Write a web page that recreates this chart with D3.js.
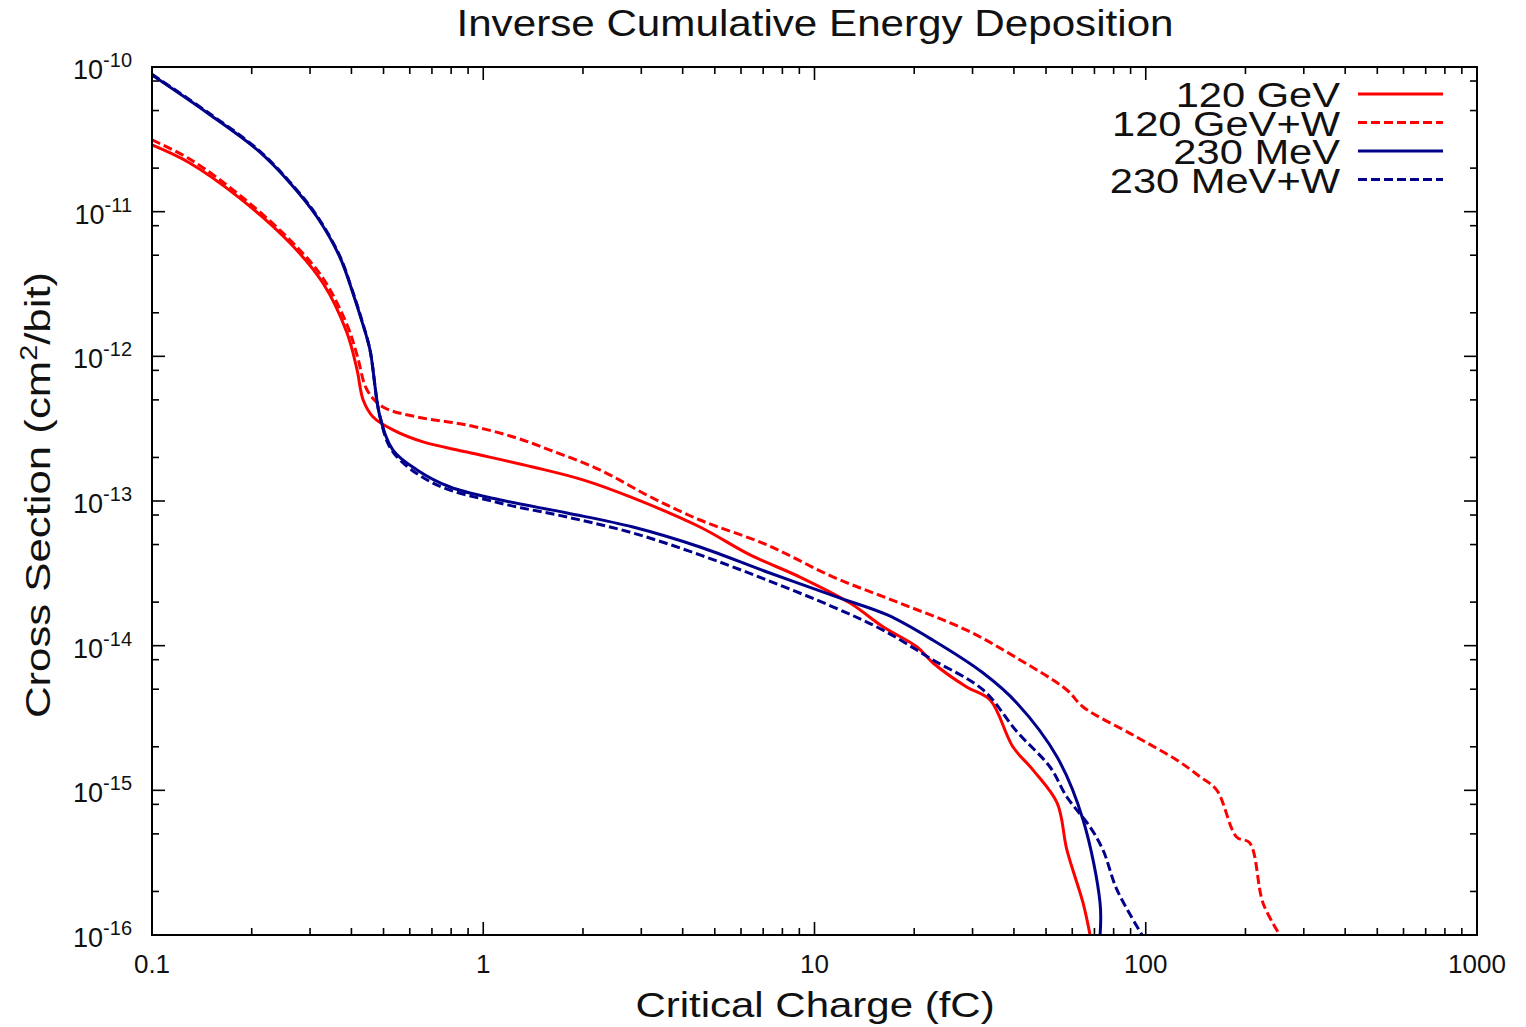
<!DOCTYPE html>
<html>
<head>
<meta charset="utf-8">
<script src="https://cdn.jsdelivr.net/npm/d3@7"></script>
<style>
  body { margin: 0; background: #fff; }
  text { font-family: "Liberation Sans", Arial, Helvetica, sans-serif; fill: #111; }
</style>
</head>
<body>
<svg id="chart" width="1526" height="1027"></svg>
<script>
"use strict";

// curves: [critical charge (fC), cross section (cm^2/bit)]
let gev120 = [
  [0.1, 2.89e-11], [0.130, 2.17e-11], [0.184, 1.24e-11], [0.261, 6.07e-12],
  [0.328, 3.21e-12], [0.388, 1.45e-12], [0.416, 8.05e-13], [0.434, 4.99e-13],
  [0.465, 3.81e-13], [0.534, 3.10e-13], [0.658, 2.56e-13], [0.893, 2.18e-13],
  [1.41, 1.72e-13], [2.0, 1.40e-13], [2.83, 1.05e-13], [4.51, 6.61e-14],
  [6.39, 4.24e-14], [9.04, 2.98e-14], [12.8, 1.97e-14], [16.1, 1.35e-14],
  [20.4, 9.79e-15], [22.8, 7.59e-15], [28.8, 5.18e-15], [33.9, 4.21e-15],
  [39.7, 2.0e-15], [45.7, 1.38e-15], [54.0, 8.18e-16], [57.8, 3.87e-16],
  [64.7, 1.66e-16], [67.9, 1.0e-16]
];

let gev120W = [
  [0.1, 3.13e-11], [0.130, 2.31e-11], [0.184, 1.30e-11], [0.261, 6.37e-12],
  [0.328, 3.48e-12], [0.388, 1.65e-12], [0.416, 1.02e-12], [0.446, 5.85e-13],
  [0.498, 4.47e-13], [0.631, 3.81e-13], [0.893, 3.35e-13], [1.26, 2.73e-13],
  [1.59, 2.25e-13], [2.25, 1.64e-13], [3.19, 1.07e-13], [4.51, 7.39e-14],
  [7.19, 4.97e-14], [11.4, 2.98e-14], [18.1, 1.97e-14], [28.8, 1.28e-14],
  [40.8, 8.22e-15], [57.8, 4.94e-15], [64.7, 3.77e-15], [91.6, 2.41e-15],
  [124, 1.62e-15], [146, 1.24e-15], [164, 1.0e-15], [188, 4.76e-16],
  [206, 4.33e-16], [226, 1.66e-16], [254, 1.0e-16]
];

let mev230 = [
  [0.1, 8.80e-11], [0.147, 4.81e-11], [0.208, 2.67e-11], [0.261, 1.58e-11],
  [0.315, 9.19e-12], [0.369, 4.86e-12], [0.404, 2.74e-12], [0.430, 1.75e-12],
  [0.455, 1.11e-12], [0.488, 3.81e-13], [0.534, 2.25e-13], [0.631, 1.64e-13],
  [0.794, 1.25e-13], [1.12, 1.02e-13], [1.79, 8.26e-14], [2.83, 6.61e-14],
  [4.51, 4.81e-14], [7.19, 3.23e-14], [11.9, 2.14e-14], [16.6, 1.63e-14],
  [22.8, 1.09e-14], [32.3, 6.47e-15], [40.8, 4.02e-15], [54.0, 1.70e-15],
  [64.7, 6.24e-16], [72.8, 1.66e-16], [72.8, 1.0e-16]
];

let mev230W = [
  [0.1, 8.90e-11], [0.147, 4.88e-11], [0.208, 2.71e-11], [0.261, 1.60e-11],
  [0.315, 9.33e-12], [0.369, 4.93e-12], [0.404, 2.78e-12], [0.430, 1.78e-12],
  [0.455, 1.11e-12], [0.488, 3.81e-13], [0.534, 2.18e-13], [0.705, 1.33e-13],
  [1.12, 9.69e-14], [1.79, 7.75e-14], [2.83, 6.01e-14], [4.51, 4.24e-14],
  [7.19, 2.84e-14], [11.4, 1.85e-14], [16.1, 1.28e-14], [22.8, 7.96e-15],
  [32.3, 4.94e-15], [40.8, 2.55e-15], [51.4, 1.45e-15], [57.8, 9.0e-16],
  [67.9, 5.58e-16], [74.3, 3.87e-16], [81.9, 2.05e-16], [97.5, 1.0e-16]
];

let seriesNames = ["120 GeV", "120 GeV+W", "230 MeV", "230 MeV+W"];
let seriesData = [gev120, gev120W, mev230, mev230W];

let xTickValues = [0.1, 1, 10, 100, 1000];
let xTickLabels = ["0.1", "1", "10", "100", "1000"];
let yTickExponents = [-10, -11, -12, -13, -14, -15, -16];

let titleText = "Inverse Cumulative Energy Deposition";
let xLabelText = "Critical Charge (fC)";

// styling for each series, in drawing order
let seriesStyles = [
  { color: "#ff0000", dash: null },
  { color: "#ff0000", dash: "9,4" },
  { color: "#00008b", dash: null },
  { color: "#00008b", dash: "9,4" }
];

let plot = { left: 152, right: 1477, top: 67, bottom: 935 };

let svg = d3.select("#chart");

let x = d3.scaleLog().domain([0.1, 1000]).range([plot.left, plot.right]);
let y = d3.scaleLog().domain([1e-16, 1e-10]).range([plot.bottom, plot.top]);

svg.append("rect")
  .attr("width", 1526)
  .attr("height", 1027)
  .attr("fill", "#fff");

svg.append("defs").append("clipPath")
  .attr("id", "plotClip")
  .append("rect")
  .attr("x", plot.left)
  .attr("y", plot.top)
  .attr("width", plot.right - plot.left)
  .attr("height", plot.bottom - plot.top);

drawTicks();
drawCurves();
drawFrame();
drawLabels();
drawLegend();

function drawTicks() {
  let majorLen = 13, minorLen = 7;
  let ticks = svg.append("g")
    .attr("stroke", "#000")
    .attr("stroke-width", 1.6);

  // x: major at decades, minor at 2..9
  let xMinor = [];
  for (let k = -1; k < 3; k++) {
    for (let m = 2; m <= 9; m++) xMinor.push(m * Math.pow(10, k));
  }
  let xAll = xTickValues.map(v => ({ v: v, len: majorLen }))
    .concat(xMinor.map(v => ({ v: v, len: minorLen })));

  ticks.selectAll(".xTickB")
    .data(xAll)
    .enter().append("line")
    .attr("x1", d => x(d.v)).attr("x2", d => x(d.v))
    .attr("y1", plot.bottom).attr("y2", d => plot.bottom - d.len);

  ticks.selectAll(".xTickT")
    .data(xAll)
    .enter().append("line")
    .attr("x1", d => x(d.v)).attr("x2", d => x(d.v))
    .attr("y1", plot.top).attr("y2", d => plot.top + d.len);

  // y: major at decades, minor at 2, 5, 8
  let yMinor = [];
  for (let k = -16; k < -10; k++) {
    for (let m of [2, 5, 8]) yMinor.push(m * Math.pow(10, k));
  }
  let yAll = yTickExponents.map(e => ({ v: Math.pow(10, e), len: majorLen }))
    .concat(yMinor.map(v => ({ v: v, len: minorLen })));

  ticks.selectAll(".yTickL")
    .data(yAll)
    .enter().append("line")
    .attr("y1", d => y(d.v)).attr("y2", d => y(d.v))
    .attr("x1", plot.left).attr("x2", d => plot.left + d.len);

  ticks.selectAll(".yTickR")
    .data(yAll)
    .enter().append("line")
    .attr("y1", d => y(d.v)).attr("y2", d => y(d.v))
    .attr("x1", plot.right).attr("x2", d => plot.right - d.len);
}

function drawCurves() {
  let line = d3.line()
    .x(d => x(d[0]))
    .y(d => y(d[1]))
    .curve(d3.curveCatmullRom.alpha(0.5));

  svg.append("g")
    .attr("clip-path", "url(#plotClip)")
    .selectAll(".curve")
    .data(seriesData)
    .enter().append("path")
    .attr("class", "curve")
    .attr("fill", "none")
    .attr("stroke", (d, i) => seriesStyles[i].color)
    .attr("stroke-width", 3)
    .attr("stroke-linejoin", "round")
    .attr("stroke-dasharray", (d, i) => seriesStyles[i].dash)
    .attr("d", line);
}

function drawFrame() {
  svg.append("rect")
    .attr("x", plot.left)
    .attr("y", plot.top)
    .attr("width", plot.right - plot.left)
    .attr("height", plot.bottom - plot.top)
    .attr("fill", "none")
    .attr("stroke", "#000")
    .attr("stroke-width", 2);
}

function drawLabels() {
  // x tick labels
  svg.selectAll(".xLabel")
    .data(xTickValues)
    .enter().append("text")
    .attr("class", "xLabel")
    .attr("x", d => x(d))
    .attr("y", 973)
    .attr("text-anchor", "middle")
    .style("font-size", "26px")
    .text((d, i) => xTickLabels[i]);

  // y tick labels as 10^n
  svg.selectAll(".yLabel")
    .data(yTickExponents)
    .enter().append("text")
    .attr("class", "yLabel")
    .attr("x", 132)
    .attr("y", d => y(Math.pow(10, d)) + 12)
    .attr("text-anchor", "end")
    .each(function(d) {
      let t = d3.select(this);
      t.append("tspan").style("font-size", "27px").text("10");
      t.append("tspan").style("font-size", "20px").attr("dy", -12).text(d);
    });

  svg.append("text")
    .attr("transform", "translate(815,36) scale(1.14,1)")
    .attr("text-anchor", "middle")
    .style("font-size", "37px")
    .text(titleText);

  svg.append("text")
    .attr("transform", "translate(815,1017) scale(1.2,1)")
    .attr("text-anchor", "middle")
    .style("font-size", "35px")
    .text(xLabelText);

  let yLabel = svg.append("text")
    .attr("transform", "translate(50,495) rotate(-90) scale(1.25,1)")
    .attr("text-anchor", "middle")
    .style("font-size", "35px");
  yLabel.append("tspan").text("Cross Section (cm");
  yLabel.append("tspan").attr("dy", -13).style("font-size", "23px").text("2");
  yLabel.append("tspan").attr("dy", 13).text("/bit)");
}

function drawLegend() {
  let rows = svg.append("g")
    .selectAll(".legendRow")
    .data(seriesNames)
    .enter().append("g")
    .attr("class", "legendRow")
    .attr("transform", (d, i) => "translate(0," + (107 + i * 28.5) + ")");

  rows.append("text")
    .attr("transform", "translate(1340,0) scale(1.19,1)")
    .attr("text-anchor", "end")
    .style("font-size", "35px")
    .text(d => d);

  rows.append("line")
    .attr("x1", 1358)
    .attr("x2", 1443)
    .attr("y1", -13)
    .attr("y2", -13)
    .attr("stroke", (d, i) => seriesStyles[i].color)
    .attr("stroke-width", 3)
    .attr("stroke-dasharray", (d, i) => seriesStyles[i].dash);
}
</script>
</body>
</html>
